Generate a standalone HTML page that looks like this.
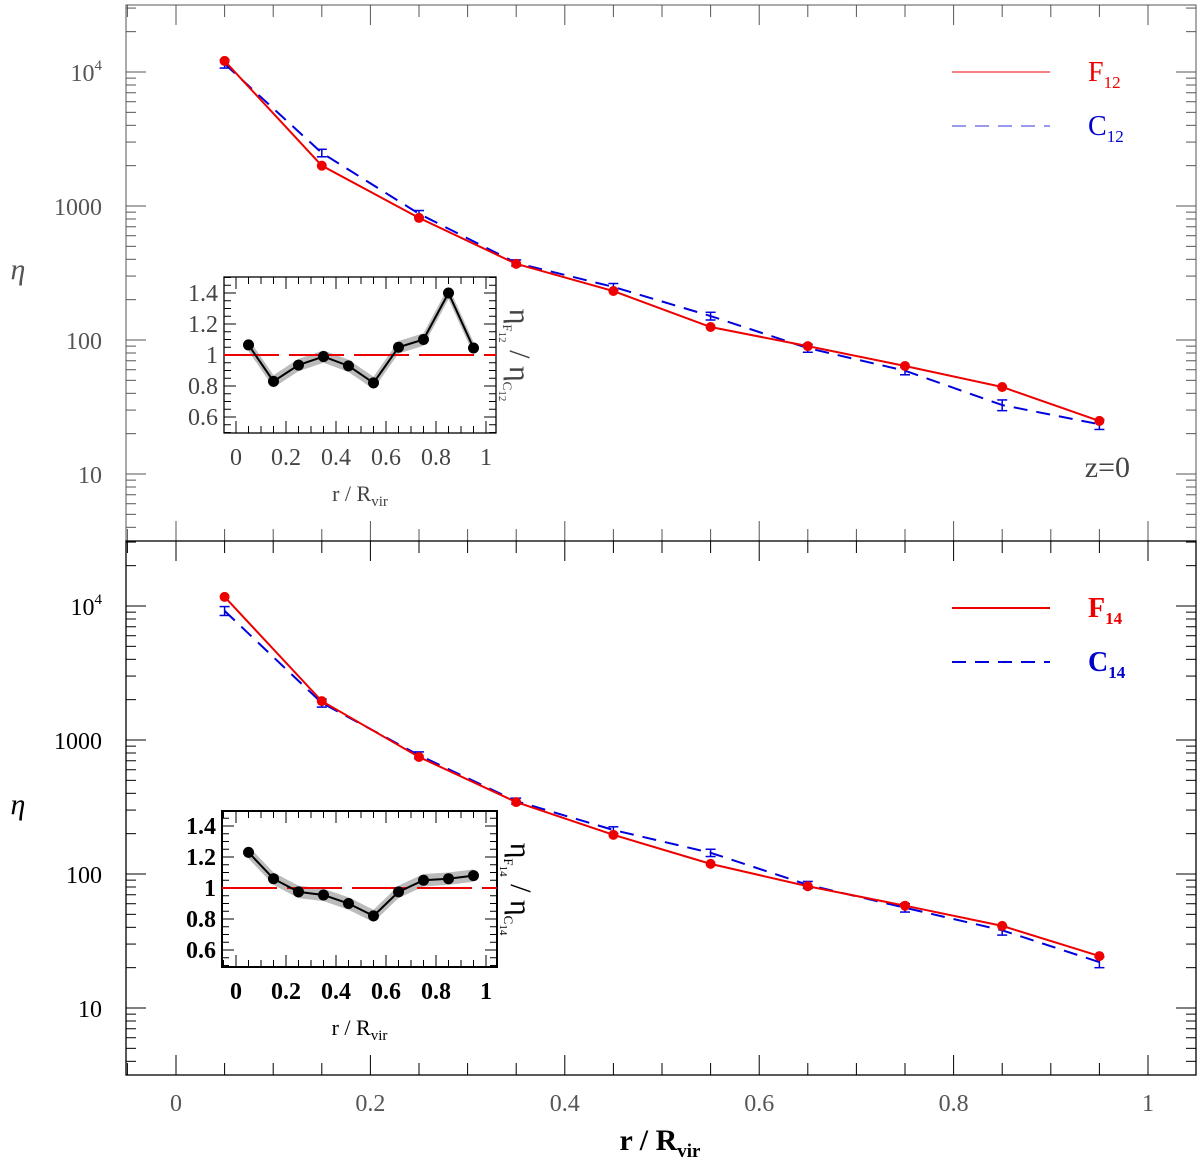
<!DOCTYPE html>
<html><head><meta charset="utf-8"><style>
html,body{margin:0;padding:0;background:#fff;}
svg{display:block;font-family:"Liberation Serif",serif;}
</style></head><body>
<svg id="c" width="1200" height="1162" viewBox="0 0 1200 1162" xmlns="http://www.w3.org/2000/svg"></svg>
<script>
const rx = [0.05,0.15,0.25,0.35,0.45,0.55,0.65,0.75,0.85,0.95];
const f12 = [12100,2000,815,370,232,125,90,64,44.6,24.9];
const c12 = [11500,2490,875,376,249,151,87,59,32.7,23.5];
const c12err = [800,160,50,20,15,10,6,4,3,2];
const f14 = [11700,1950,747,344,196,119,81,58,41,24.4];
const c14 = [9200,1890,770,350,213,144,83,56,38,22];
const c14err = [700,130,45,18,12,9,5,4,3,2];
const ratio12 = [1.065,0.83,0.935,0.99,0.93,0.82,1.05,1.10,1.40,1.045];
const ratio14 = [1.23,1.06,0.975,0.955,0.90,0.82,0.975,1.05,1.06,1.08];
const xTicks = ["0","0.2","0.4","0.6","0.8","1"];
const yTicks = ["10","100","1000"];
const insetTicks = ["0.6","0.8","1","1.2","1.4"];

const NS="http://www.w3.org/2000/svg";
const svg=document.getElementById('c');
function mk(tag,attrs,parent,name){const e=document.createElementNS(NS,tag);for(const k in attrs)e.setAttribute(k,attrs[k]);


(parent||svg).appendChild(e);return e;}
const X=v=>176+v*972;
const L=126,R=1196;

function panel(top,bot,y4,F,C,Cerr,ratio,bold,lab,fr){
  const Y=v=>y4-(Math.log10(v)-4)*134;
  const g=mk('g',{},svg,'panel-'+lab);
  const sw=bold?1.3:1, col=bold?'#000':'#555';
  mk('rect',{x:L,y:top,width:R-L,height:bot-top,fill:'none',stroke:col,'stroke-width':sw},g,'plot-frame');
  for(let i=0;i<=21;i++){const v=-0.05+i*0.05; const x=X(v); if(x<L||x>R)continue;
    const maj=Math.abs(v*10-Math.round(v*10))<1e-6 && Math.round(v*10)%2===0;
    const len=maj?20:12;
    mk('line',{x1:x,y1:bot,x2:x,y2:bot-len,stroke:col,'stroke-width':1},g,'x-tick');
    mk('line',{x1:x,y1:top,x2:x,y2:top+len,stroke:col,'stroke-width':1},g,'x-tick');}
  for(let d=0;d<=5;d++){for(let m=1;m<10;m++){const v=m*Math.pow(10,d); const y=Y(v); if(y<top||y>bot)continue;
    const len=m===1?20:10;
    mk('line',{x1:L,y1:y,x2:L+len,y2:y,stroke:col,'stroke-width':1},g,'y-tick');
    mk('line',{x1:R,y1:y,x2:R-len,y2:y,stroke:col,'stroke-width':1},g,'y-tick');}}
  const tc=bold?'#000':'#555';
  yTicks.forEach((t,i)=>{const t2=mk('text',{x:102,y:Y(Math.pow(10,i+1))+9,'text-anchor':'end','font-size':24,fill:tc},g,'y-tick-label');t2.textContent=t;});
  const t4=mk('text',{x:102,y:Y(1e4)+9,'text-anchor':'end','font-size':24,fill:tc},g,'y-tick-label');t4.innerHTML='10<tspan font-size="15" dy="-11">4</tspan>';
  const yl=mk('text',{x:18,y:(top+bot)/2+6,'text-anchor':'middle','font-size':30,'font-style':'italic',fill:tc},g,'y-axis-title');yl.textContent='η';
  const pts=a=>a.map((v,i)=>X(rx[i])+','+Y(v)).join(' ');
  mk('polyline',{points:pts(C),fill:'none',stroke:'#0000dd','stroke-width':2,'stroke-dasharray':'14,9'},g,'series-'+lab.replace('F','C'));
  C.forEach((v,i)=>{const x=X(rx[i]);const y1=Y(v+Cerr[i]),y2=Y(Math.max(v-Cerr[i],1));
    mk('line',{x1:x,y1:y1,x2:x,y2:y2,stroke:'#0000dd','stroke-width':1.5},g,'error-bar');
    mk('line',{x1:x-5,y1:y1,x2:x+5,y2:y1,stroke:'#0000dd','stroke-width':1.5},g,'error-cap');
    mk('line',{x1:x-5,y1:y2,x2:x+5,y2:y2,stroke:'#0000dd','stroke-width':1.5},g,'error-cap');});
  mk('polyline',{points:pts(F),fill:'none',stroke:'#ee0000','stroke-width':2},g,'series-'+lab);
  F.forEach((v,i)=>mk('circle',{cx:X(rx[i]),cy:Y(v),r:5,fill:'#ee0000'},g,'point-'+lab));
  const ly=top+67;
  mk('line',{x1:952,y1:ly,x2:1050,y2:ly,stroke:'#ee0000','stroke-width':bold?2:1},g,'legend-line-f');
  mk('line',{x1:952,y1:ly+54,x2:1050,y2:ly+54,stroke:bold?'#0000dd':'#9999ee','stroke-width':2,'stroke-dasharray':'14,9'},g,'legend-line-c');
  const lf=mk('text',{x:1088,y:ly+9,'font-size':28,fill:'#ee0000','font-weight':bold?'bold':'normal'},g,'legend-label-f');lf.innerHTML='F<tspan font-size="17" dy="7">'+lab.slice(1)+'</tspan>';
  const lc=mk('text',{x:1088,y:ly+63,'font-size':28,fill:'#0000cc','font-weight':bold?'bold':'normal'},g,'legend-label-c');lc.innerHTML='C<tspan font-size="17" dy="7">'+lab.slice(1)+'</tspan>';
  const ix0=fr[0],ix1=fr[1],iy0=fr[2],iy1=fr[3],y1v=fr[4];
  const IX=v=>236+v*250, IY=v=>y1v-(v-1)*155;
  const ig=mk('g',{},g,'inset-'+lab);
  mk('rect',{x:ix0,y:iy0,width:ix1-ix0,height:iy1-iy0,fill:'#fff',stroke:'#000','stroke-width':bold?2:1.3},ig,'inset-frame');
  for(let i=0;i<=21;i++){const v=-0.05+i*0.05;const x=IX(v);if(x<=ix0||x>=ix1)continue;const len=(i%4===1)?12:7;
    mk('line',{x1:x,y1:iy1,x2:x,y2:iy1-len,stroke:'#000','stroke-width':1},ig,'inset-x-tick');
    mk('line',{x1:x,y1:iy0,x2:x,y2:iy0+len,stroke:'#000','stroke-width':1},ig,'inset-x-tick');}
  for(let i=0;i<=20;i++){const v=0.5+i*0.05;const y=IY(v);if(y<=iy0||y>=iy1)continue;const len=(i%4===2)?12:7;
    mk('line',{x1:ix0,y1:y,x2:ix0+len,y2:y,stroke:'#000','stroke-width':1},ig,'inset-y-tick');
    mk('line',{x1:ix1,y1:y,x2:ix1-len,y2:y,stroke:'#000','stroke-width':1},ig,'inset-y-tick');}
  const band=ratio.map((v,i)=>IX(rx[i])+','+IY(v+0.04)).join(' ')+' '+ratio.slice().reverse().map((v,j)=>{const i=ratio.length-1-j;return IX(rx[i])+','+IY(v-0.04);}).join(' ');
  mk('polygon',{points:band,fill:'#bbb',stroke:'none'},ig,'inset-error-band');
  mk('line',{x1:ix0,y1:IY(1),x2:ix1,y2:IY(1),stroke:'#ee0000','stroke-width':2,'stroke-dasharray':'55,10'},ig,'inset-unity-line');
  mk('polyline',{points:ratio.map((v,i)=>IX(rx[i])+','+IY(v)).join(' '),fill:'none',stroke:'#000','stroke-width':2},ig,'inset-ratio-line');
  ratio.forEach((v,i)=>mk('circle',{cx:IX(rx[i]),cy:IY(v),r:5.5,fill:'#000'},ig,'inset-point'));
  const fw=bold?'bold':'normal', ic=bold?'#000':'#444';
  insetTicks.forEach(t=>{const e=mk('text',{x:ix0-6,y:IY(parseFloat(t))+8,'text-anchor':'end','font-size':24,fill:ic,'font-weight':fw},ig,'inset-y-tick-label');e.textContent=t;});
  ["0","0.2","0.4","0.6","0.8","1"].forEach((t,i)=>{const e=mk('text',{x:IX(i*0.2),y:iy1+32,'text-anchor':'middle','font-size':24,fill:ic,'font-weight':fw},ig,'inset-x-tick-label');e.textContent=t;});
  const ixl=mk('text',{x:(ix0+ix1)/2,y:iy1+68,'text-anchor':'middle','font-size':22,fill:ic},ig,'inset-x-title');ixl.innerHTML='r / R<tspan font-size="15" dy="5">vir</tspan>';
  const iyl=mk('text',{x:0,y:0,'text-anchor':'middle','font-size':30,fill:ic,transform:'translate('+(ix1+14)+','+((iy0+iy1)/2)+') rotate(90)'},ig,'inset-y-title');
  iyl.innerHTML='η<tspan font-size="13" dy="7">F</tspan><tspan font-size="11" dy="4">'+lab.slice(1)+'</tspan><tspan dy="-11"> / η</tspan><tspan font-size="13" dy="7">C</tspan><tspan font-size="11" dy="4">'+lab.slice(1)+'</tspan>';
}
panel(5,541,72,f12,c12,c12err,ratio12,false,'F12',[224,496,277,433,355]);
panel(541,1075,606,f14,c14,c14err,ratio14,true,'F14',[222,497,811,967,888]);
const z=mk('text',{x:1130,y:477,'text-anchor':'end','font-size':30,fill:'#444'},svg,'redshift-label');z.textContent='z=0';
xTicks.forEach((t,i)=>{const e=mk('text',{x:X(i*0.2),y:1111,'text-anchor':'middle','font-size':24,fill:'#555'},svg,'x-tick-label');e.textContent=t;});
const xl=mk('text',{x:660,y:1150,'text-anchor':'middle','font-size':30,'font-weight':'bold'},svg,'x-axis-title');xl.innerHTML='r / R<tspan font-size="19" dy="7">vir</tspan>';
</script>
</body></html>
